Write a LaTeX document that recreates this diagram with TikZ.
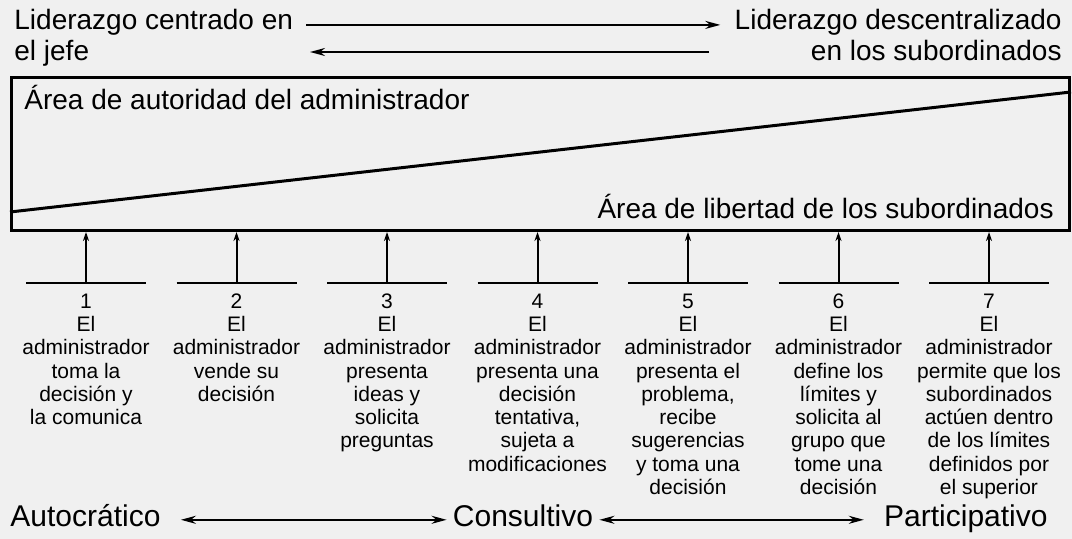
\documentclass[tikz,border=0pt]{standalone}
\usepackage{fontspec}
\setmainfont{Liberation Sans}
\usetikzlibrary{positioning, arrows.meta}

\newcommand{\topline}{\rule{0pt}{0.75em}}

\begin{document}
\begin{tikzpicture}[
  x=0.5pt, y=-0.5pt,
  head/.style    = {font=\fontsize{14}{16}\selectfont, inner sep=0pt,
                    text height=0.72em, text depth=0.21em},
  item/.style    = {font=\fontsize{10.5}{11.65}\selectfont, align=center, inner sep=0pt},
  estilo/.style  = {font=\fontsize{15}{17}\selectfont, inner sep=0pt,
                    text height=0.72em, text depth=0pt},
  marco/.style   = {draw, line width=1.5pt, minimum width=529pt,
                    minimum height=76.5pt, inner sep=0pt},
  bar/.style     = {line width=1pt},
  up/.style      = {line width=1pt, -{Stealth[length=4.5pt, width=3pt]}},
  lead/.style    = {line width=1pt, -{Stealth[length=7.5pt, width=4pt]}},
  both/.style    = {line width=1pt, {Stealth[length=7.5pt, width=4pt]}-{Stealth[length=7.5pt, width=4pt]}}
]
\fill[black!6] (0,0) rectangle (1072,539);
\useasboundingbox (0,0) rectangle (1072,539);
% Leadership labels
\node[head, anchor=base west] (centrado) at (14,30) {Liderazgo centrado en};
\node[head, anchor=base west] (jefe) at (14,61) {el jefe};
\node[head, anchor=base east] (descentr) at (1062,30) {Liderazgo descentralizado};
\node[head, anchor=base east] (subord) at (1062,61) {en los subordinados};
\coordinate (vuelta) at (709,52);
\coordinate (regreso) at (310,52);
\draw[lead, shorten <=6.5pt, shorten >=7pt] (centrado.east) -- (descentr.west);
\draw[lead] (vuelta) -- (regreso);
% Authority / freedom box
\node[marco, anchor=north west] (marco) at (10,76) {};
\coordinate[above=10pt of marco.south west] (d1);
\coordinate[below=8pt of marco.north east] (d2);
\draw[line width=1.5pt] (d1) -- (d2);
\node[head, anchor=base west] (autoridad) at (24,110) {Área de autoridad del administrador};
\node[head, anchor=base east] (libertad) at (1054,219) {Área de libertad de los subordinados};
% Column 1
\coordinate (p1) at (86,283);
\draw[bar] ([xshift=-30pt]p1) -- ([xshift=30pt]p1);
\draw[up] (p1) -- (p1 |- marco.south);
\node[item, below=4.5pt of p1] (t1) {\topline 1\\El\\administrador\\toma la\\decisión y\\la comunica};
% Column 2
\coordinate (p2) at (236.5,283);
\draw[bar] ([xshift=-30pt]p2) -- ([xshift=30pt]p2);
\draw[up] (p2) -- (p2 |- marco.south);
\node[item, below=4.5pt of p2] (t2) {\topline 2\\El\\administrador\\vende su\\decisión};
% Column 3
\coordinate (p3) at (387,283);
\draw[bar] ([xshift=-30pt]p3) -- ([xshift=30pt]p3);
\draw[up] (p3) -- (p3 |- marco.south);
\node[item, below=4.5pt of p3] (t3) {\topline 3\\El\\administrador\\presenta\\ideas y\\solicita\\preguntas};
% Column 4
\coordinate (p4) at (537.5,283);
\draw[bar] ([xshift=-30pt]p4) -- ([xshift=30pt]p4);
\draw[up] (p4) -- (p4 |- marco.south);
\node[item, below=4.5pt of p4] (t4) {\topline 4\\El\\administrador\\presenta una\\decisión\\tentativa,\\sujeta a\\modificaciones};
% Column 5
\coordinate (p5) at (688,283);
\draw[bar] ([xshift=-30pt]p5) -- ([xshift=30pt]p5);
\draw[up] (p5) -- (p5 |- marco.south);
\node[item, below=4.5pt of p5] (t5) {\topline 5\\El\\administrador\\presenta el\\problema,\\recibe\\sugerencias\\y toma una\\decisión};
% Column 6
\coordinate (p6) at (838.5,283);
\draw[bar] ([xshift=-30pt]p6) -- ([xshift=30pt]p6);
\draw[up] (p6) -- (p6 |- marco.south);
\node[item, below=4.5pt of p6] (t6) {\topline 6\\El\\administrador\\define los\\límites y\\solicita al\\grupo que\\tome una\\decisión};
% Column 7
\coordinate (p7) at (989,283);
\draw[bar] ([xshift=-30pt]p7) -- ([xshift=30pt]p7);
\draw[up] (p7) -- (p7 |- marco.south);
\node[item, below=4.5pt of p7] (t7) {\topline 7\\El\\administrador\\permite que los\\subordinados\\actúen dentro\\de los límites\\definidos por\\el superior};
% Styles scale
\node[estilo, anchor=base west] (autocratico) at (10,527) {Autocrático};
\node[estilo, anchor=base] (consultivo) at (523,527) {Consultivo};
\node[estilo, anchor=base east] (participativo) at (1048,527) {Participativo};
\draw[both, shorten <=10pt, shorten >=3pt] (autocratico.east) -- (consultivo.west);
\draw[both, shorten <=3pt, shorten >=10pt] (consultivo.east) -- (participativo.west);
\end{tikzpicture}
\end{document}
